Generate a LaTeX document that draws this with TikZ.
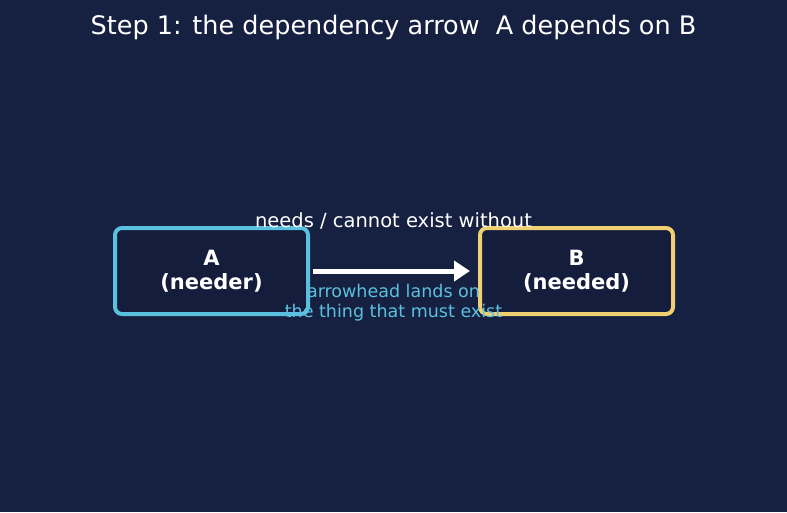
\documentclass[tikz,border=0pt]{standalone}
\usepackage{fontspec}
\setmainfont{DejaVu Sans}
\usetikzlibrary{positioning, arrows.meta}
\definecolor{bgnavy}{HTML}{162040}
\definecolor{boxfill}{HTML}{141D3C}
\definecolor{needercol}{HTML}{5BC0DE}
\definecolor{neededcol}{HTML}{F0D070}
\tikzset{depbox/.style={draw, rounded corners=7pt, line width=4pt, fill=boxfill, align=center, text=white, font=\fontsize{21}{24}\selectfont\bfseries, minimum width=193pt, minimum height=86pt, inner sep=0pt},
deparrow/.style={-{Triangle[length=16pt, width=20pt]}, line width=5pt, white},
toplabel/.style={text=white, font=\fontsize{19.5}{23}\selectfont},
notelabel/.style={text=needercol, font=\fontsize{17.5}{20}\selectfont, align=center}}
\begin{document}
\begin{tikzpicture}[x=1pt, y=-1pt]
  \fill[bgnavy] (0,0) rectangle (787,512);
  \useasboundingbox (0,0) rectangle (787,512);
  \node[text=white, font=\fontsize{25.5}{30}\selectfont] (title) at (393.5,27) {Step 1: the dependency arrow\ \ A depends on B};
  \node[depbox, draw=needercol] (a) at (211.5,271) {A\\(needer)};
  \node[depbox, draw=neededcol] (b) at (576.5,271) {B\\(needed)};
  \draw[deparrow, shorten <=3pt, shorten >=8pt] (a) -- (b);
  \node[toplabel] (need) at (393.5,221) {needs / cannot exist without};
  \node[notelabel] (note) at (393.5,303) {arrowhead lands on\\the thing that must exist};
\end{tikzpicture}
\end{document}
